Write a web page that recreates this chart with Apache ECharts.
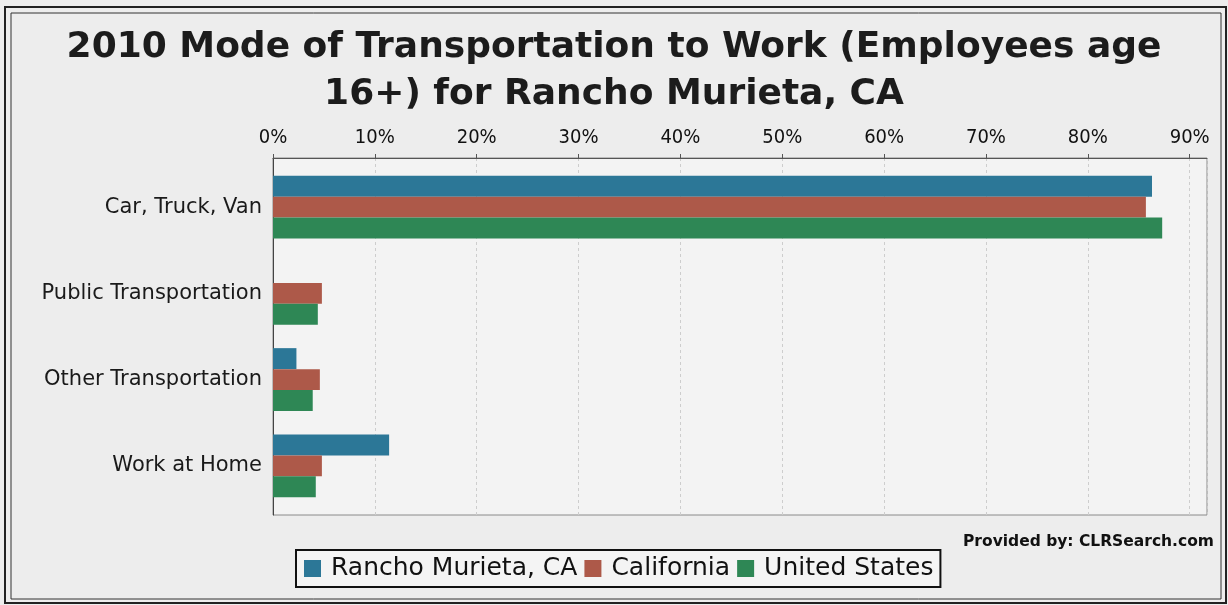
<!DOCTYPE html>
<html>
<head>
<meta charset="utf-8">
<style>
  html, body { margin: 0; padding: 0; background: #ededed; }
  #chart { width: 1228px; height: 605px; }
</style>
<script src="https://cdn.jsdelivr.net/npm/echarts@6/dist/echarts.min.js"></script>
</head>
<body>
<div id="chart"></div>
<script>
// Commuting mode shares, percent of workers age 16+
const categories = ['Car, Truck, Van', 'Public Transportation', 'Other Transportation', 'Work at Home'];
const seriesNames = ['Rancho Murieta, CA', 'California', 'United States'];
const ranchoMurieta = [86.3, 0, 2.3, 11.4];
const california = [85.7, 4.8, 4.6, 4.8];
const unitedStates = [87.3, 4.4, 3.9, 4.2];
const colors = ['#2c7797', '#ad5949', '#2e8755'];

const axisMax = 91.7;
const sans = '"DejaVu Sans", sans-serif';
const condensed = '"DejaVu Sans Condensed", "DejaVu Sans", sans-serif';

const chart = echarts.init(document.getElementById('chart'), null, { renderer: 'canvas' });

const seriesData = [ranchoMurieta, california, unitedStates];

chart.setOption({
  backgroundColor: '#ededed',
  animation: false,
  color: colors,
  title: [
    {
      text: '2010 Mode of Transportation to Work (Employees age\n16+) for Rancho Murieta, CA',
      left: 'center',
      top: 19,
      textStyle: {
        fontFamily: sans,
        fontWeight: 'bold',
        fontSize: 36,
        lineHeight: 47,
        color: '#1c1c1c'
      }
    },
    {
      text: 'Provided by: CLRSearch.com',
      right: 9,
      top: 529,
      textStyle: {
        fontFamily: sans,
        fontWeight: 'bold',
        fontSize: 15.5,
        color: '#111'
      }
    }
  ],
  legend: {
    data: seriesNames,
    left: 296,
    top: 550,
    orient: 'horizontal',
    icon: 'rect',
    itemWidth: 17,
    itemHeight: 17,
    itemGap: 7,
    padding: [6, 7, 6, 8],
    borderColor: '#111',
    borderWidth: 2,
    backgroundColor: '#f4f4f4',
    textStyle: {
      fontFamily: sans,
      fontSize: 25,
      color: '#111',
      padding: [0, 0, 0, 5]
    }
  },
  grid: [
    // plot frame with the percent axis along its top edge
    { left: 273, right: 21, top: 158, bottom: 90, show: true, backgroundColor: '#f3f3f3', borderColor: '#8a8a8a', borderWidth: 1 },
    // bar area, inset from the frame by the category margins
    { left: 273, right: 21, top: 164, bottom: 96 }
  ],
  xAxis: [
    {
      gridIndex: 0,
      type: 'value',
      position: 'top',
      min: 0,
      max: axisMax,
      interval: 10,
      axisLine: { show: true, lineStyle: { color: '#555', width: 1 } },
      axisTick: { show: true, length: 4, inside: false, lineStyle: { color: '#555' } },
      axisLabel: {
        show: true,
        margin: 10,
        showMaxLabel: false,
        formatter: '{value}%',
        fontFamily: condensed,
        fontSize: 20,
        color: '#111'
      },
      splitLine: { show: true, lineStyle: { color: '#cdcdcd', type: [3, 3], width: 1 } }
    },
    {
      gridIndex: 1,
      type: 'value',
      min: 0,
      max: axisMax,
      show: false
    }
  ],
  yAxis: [
    {
      gridIndex: 0,
      type: 'category',
      data: categories,
      inverse: true,
      axisLine: { show: true, lineStyle: { color: '#444', width: 1 } },
      axisTick: { show: false },
      axisLabel: { show: false },
      splitLine: { show: false }
    },
    {
      gridIndex: 1,
      type: 'category',
      data: categories,
      inverse: true,
      axisLine: { show: false },
      axisTick: { show: false },
      axisLabel: {
        show: true,
        margin: 11,
        fontFamily: sans,
        fontSize: 21,
        color: '#1a1a1a'
      },
      splitLine: { show: false }
    }
  ],
  series: seriesNames.map((name, i) => ({
    name: name,
    type: 'bar',
    xAxisIndex: 1,
    yAxisIndex: 1,
    data: seriesData[i],
    barGap: '0%',
    barCategoryGap: '27%',
    itemStyle: { color: colors[i] }
  })),
  graphic: [
    {
      type: 'rect',
      silent: true,
      shape: { x: 5, y: 7, width: 1221, height: 596 },
      style: { fill: 'none', stroke: '#222', lineWidth: 2 }
    },
    {
      type: 'rect',
      silent: true,
      shape: { x: 11, y: 13, width: 1210, height: 586 },
      style: { fill: 'none', stroke: '#333', lineWidth: 1 }
    }
  ]
});
</script>
</body>
</html>
